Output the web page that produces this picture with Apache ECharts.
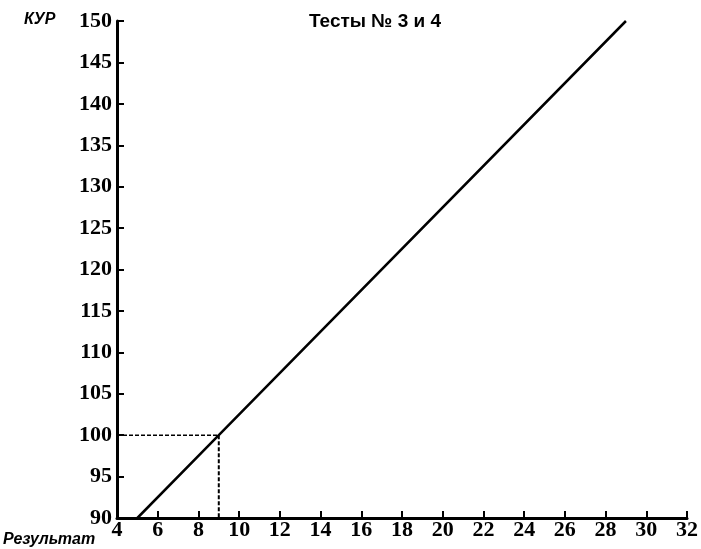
<!DOCTYPE html>
<html>
<head>
<meta charset="utf-8">
<style>
  html, body { margin: 0; padding: 0; background: #fff; }
  #chart { width: 701px; height: 549px; }
</style>
<script src="https://cdn.jsdelivr.net/npm/echarts@6/dist/echarts.min.js"></script>
</head>
<body>
<div id="chart"></div>
<script>
// Тесты № 3 и 4: результат -> КУР
const resultPoints = [5, 9, 29]
const kurValues = [90, 100, 150]
// pointer from y axis to the line and down to the x axis
const guideH = [[4, 100], [9, 100]]
const guideV = [[9, 100], [9, 90]]

const xMin = 4, xMax = 32, xStep = 2
const yMin = 90, yMax = 150, yStep = 5

const chart = echarts.init(document.getElementById('chart'))

const tickFont = {
  color: '#000',
  fontFamily: 'Liberation Serif',
  fontWeight: 'bold',
  fontSize: 22,
}

chart.setOption({
  animation: false,
  title: {
    text: 'Тесты № 3 и 4',
    left: 370,
    textAlign: 'center',
    top: 7,
    textStyle: { fontFamily: 'Liberation Sans', fontWeight: 'bold', fontSize: 19, color: '#000' },
  },
  graphic: [
    {
      type: 'text', left: 24, top: 12,
      style: { text: 'КУР', font: 'italic bold 16px "Liberation Sans"', fill: '#000' },
    },
    {
      type: 'text', left: 3, top: 532,
      style: { text: 'Результат', font: 'italic bold 16px "Liberation Sans"', fill: '#000' },
    },
  ],
  grid: { left: 117, right: 9, top: 21, bottom: 31 },
  xAxis: {
    type: 'value',
    min: xMin,
    max: xMax,
    interval: xStep,
    axisLine: { lineStyle: { color: '#000', width: 3 } },
    axisTick: { inside: true, length: 7, lineStyle: { color: '#000', width: 2 } },
    axisLabel: { ...tickFont, margin: 1 },
    splitLine: { show: false },
  },
  yAxis: {
    type: 'value',
    min: yMin,
    max: yMax,
    interval: yStep,
    axisLine: { show: true, lineStyle: { color: '#000', width: 3 } },
    axisTick: { show: true, inside: true, length: 7, lineStyle: { color: '#000', width: 2 } },
    axisLabel: { ...tickFont, margin: 5 },
    splitLine: { show: false },
  },
  series: [
    {
      type: 'line',
      data: resultPoints.map((x, i) => [x, kurValues[i]]),
      symbol: 'none',
      lineStyle: { color: '#000', width: 2.5 },
    },
    {
      type: 'line',
      data: guideH,
      symbol: 'none',
      lineStyle: { color: '#000', width: 1.5, type: [4, 2] },
    },
    {
      type: 'line',
      data: guideV,
      symbol: 'none',
      lineStyle: { color: '#000', width: 2, type: [4, 2] },
    },
  ],
})
</script>
</body>
</html>
